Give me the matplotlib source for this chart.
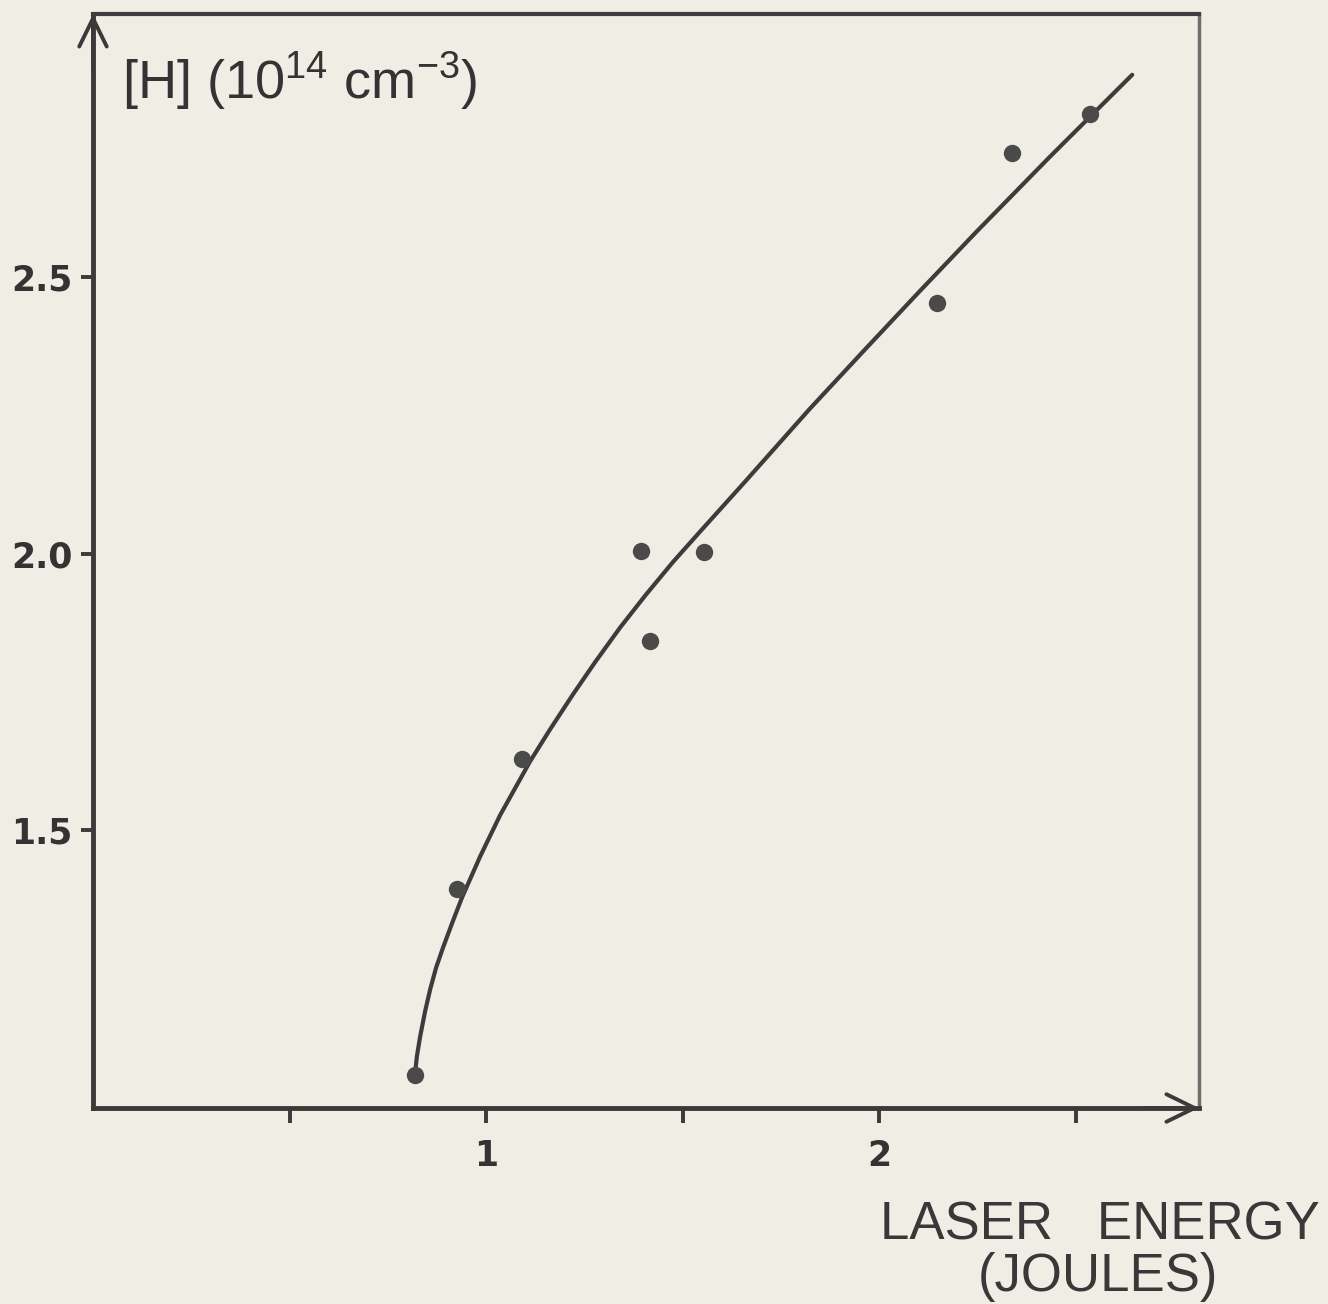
import matplotlib
matplotlib.use("Agg")
import matplotlib.pyplot as plt
from matplotlib import font_manager

# ---------------- data ----------------
point_energy = [0.819, 0.926, 1.092, 1.394, 1.417, 1.555, 2.148, 2.338, 2.537]
point_density = [1.057, 1.393, 1.628, 2.005, 1.842, 2.003, 2.453, 2.724, 2.795]

curve_energy = [0.819, 0.824, 0.832, 0.845, 0.858, 0.873, 0.891, 0.914, 0.939,
                0.985, 1.036, 1.112, 1.163, 1.221, 1.277, 1.341, 1.405, 1.476,
                1.545, 1.659, 1.824, 1.964, 2.104, 2.249, 2.435, 2.644]
curve_density = [1.057, 1.090, 1.125, 1.172, 1.212, 1.251, 1.288, 1.332, 1.378,
                 1.452, 1.527, 1.624, 1.682, 1.745, 1.803, 1.866, 1.924, 1.985,
                 2.040, 2.130, 2.262, 2.369, 2.475, 2.583, 2.718, 2.866]

x_ticks = [0.5, 1.0, 1.5, 2.0, 2.5]
x_tick_labels = ["", "1", "", "2", ""]
y_ticks = [1.5, 2.0, 2.5]
y_tick_labels = ["1.5", "2.0", "2.5"]

y_title = r"[H] (10$^{\mathrm{14}}$ cm$^{\mathrm{-3}}$)"
x_title_1 = "LASER   ENERGY"
x_title_2 = "(JOULES)"

# ---------------- fonts ----------------
available = {f.name for f in font_manager.fontManager.ttflist}
narrow = "Liberation Sans Narrow" in available
label_family = "Liberation Sans Narrow" if narrow else "Liberation Sans"
xlabel_size = 46 if narrow else 38

plt.rcParams["mathtext.fontset"] = "custom"
plt.rcParams["mathtext.rm"] = "Liberation Sans"
plt.rcParams["mathtext.it"] = "Liberation Sans:italic"
plt.rcParams["mathtext.bf"] = "Liberation Sans:bold"

paper = "#efede4"
ink = "#3a3a3a"

fig = plt.figure(figsize=(13.28, 13.04), dpi=100, facecolor=paper)
W, H = 1328, 1304
left_px, right_px, top_px, bottom_px = 93, 1199, 14, 1108
ax = fig.add_axes([left_px / W, 1 - bottom_px / H,
                   (right_px - left_px) / W, (bottom_px - top_px) / H])
ax.set_facecolor(paper)

ax.set_xlim(0, 2.814)
ax.set_ylim(0.997, 2.976)

# curve and points
ax.plot(curve_energy, curve_density, color="#3c3c3c", lw=3.0,
        solid_capstyle="round", solid_joinstyle="round", zorder=2)
ax.plot(point_energy, point_density, "o", ms=12.5, color="#4a4a4a",
        markeredgewidth=0, zorder=3)

# spines
for side in ("left", "bottom"):
    ax.spines[side].set_color(ink)
    ax.spines[side].set_linewidth(3.5)
ax.spines["top"].set_color("#3e3e3e")
ax.spines["top"].set_linewidth(3.0)
ax.spines["right"].set_color("#6e6e6e")
ax.spines["right"].set_linewidth(2.5)

# arrows at axis ends
arrow_kw = dict(arrowstyle="->,head_length=0.45,head_width=0.22",
                mutation_scale=45, lw=2.8, color=ink, shrinkA=0, shrinkB=0)
ax.annotate("", xy=(0, 1.0), xytext=(0, 0.95), xycoords="axes fraction",
            textcoords="axes fraction", arrowprops=arrow_kw, annotation_clip=False)
ax.annotate("", xy=(1.0, 0), xytext=(0.95, 0), xycoords="axes fraction",
            textcoords="axes fraction", arrowprops=arrow_kw, annotation_clip=False)

# ticks
ax.set_xticks(x_ticks)
ax.set_xticklabels(x_tick_labels)
ax.set_yticks(y_ticks)
ax.set_yticklabels(y_tick_labels)
ax.tick_params(axis="x", direction="out", length=11, width=2.8, color=ink,
               pad=11, labelsize=25, labelcolor="#333333")
ax.tick_params(axis="y", direction="out", length=9, width=2.8, color=ink,
               pad=6, labelsize=25, labelcolor="#333333")
for lab in ax.get_xticklabels() + ax.get_yticklabels():
    lab.set_fontfamily("DejaVu Sans")
    lab.set_fontweight("bold")

# titles
ax.text(0.026, 0.967, y_title, transform=ax.transAxes, ha="left", va="top",
        fontsize=39, color="#333333", family="Liberation Sans")

fig.text(1100 / W, 1 - 1240 / H, x_title_1, ha="center", va="baseline",
         fontsize=xlabel_size, color="#383838", family=label_family)
fig.text(1098 / W, 1 - 1291 / H, x_title_2, ha="center", va="baseline",
         fontsize=xlabel_size, color="#383838", family=label_family)

fig.savefig("out.png", dpi=100, facecolor=paper)
